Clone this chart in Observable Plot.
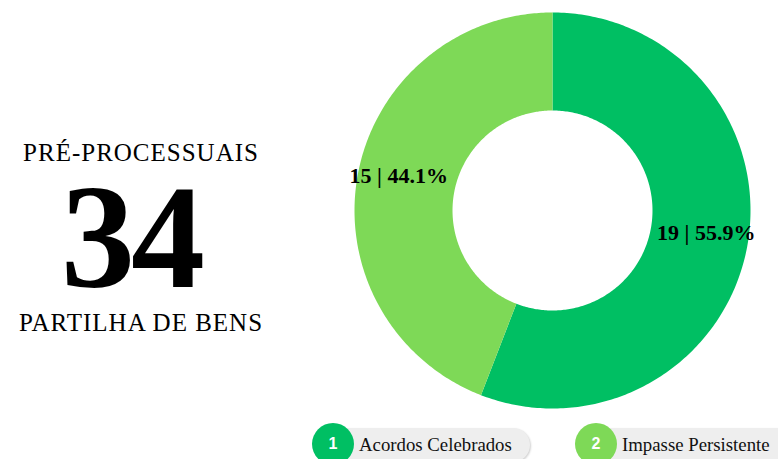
<!DOCTYPE html>
<html>
<head>
<meta charset="utf-8">
<script src="https://cdn.jsdelivr.net/npm/d3@7"></script>
<script src="https://cdn.jsdelivr.net/npm/@observablehq/plot@0.6"></script>
<style>
  html, body { margin: 0; padding: 0; background: #fff; }
  #wrap { position: relative; width: 778px; height: 459px; overflow: hidden; font-family: "Liberation Serif", "DejaVu Serif", serif; }
  .side { position: absolute; left: 0; width: 282px; text-align: center; color: #000; }
  #top { top: 138px; font-size: 25px; letter-spacing: 1px; line-height: 30px; }
  #big { top: 182px; font-size: 148px; font-weight: bold; line-height: 110px; height: 110px; left: -10px; letter-spacing: -4px; }
  #bottom { top: 308px; font-size: 25px; letter-spacing: 1px; line-height: 30px; }
  #chart { position: absolute; left: 352px; top: 10px; }
  .item { position: absolute; top: 423px; height: 42px; }
  .pill { position: absolute; top: 5px; height: 34px; border-radius: 17px; background: #eeeeee; box-shadow: 1px 1px 2px rgba(0,0,0,0.18); }
  .dot { position: absolute; left: 0; top: 0; width: 42px; height: 42px; border-radius: 21px; color: #fff;
         font-family: "Liberation Sans", Arial, sans-serif; font-size: 16px; font-weight: bold; text-align: center; line-height: 42px; }
  .lab { position: absolute; left: 47px; top: 10px; font-size: 18.8px; line-height: 24px; color: #111; white-space: nowrap; }
</style>
</head>
<body>
<div id="wrap">
  <div class="side" id="top"></div>
  <div class="side" id="big"></div>
  <div class="side" id="bottom"></div>
  <div id="chart"></div>
  <div id="legend"></div>
</div>
<script>
const categories = ["Acordos Celebrados", "Impasse Persistente"];
const values = [19, 15];
const colors = ["#00BF63", "#7ED957"];
const headerText = "PRÉ-PROCESSUAIS";
const footerText = "PARTILHA DE BENS";

const total = d3.sum(values);
document.getElementById("top").textContent = headerText;
document.getElementById("big").textContent = String(total);
document.getElementById("bottom").textContent = footerText;

// donut geometry (data units: outer radius = 1)
const outerR = 1, innerR = 0.505, labelR = 0.79;
const slices = [];
let acc = 0;
categories.forEach((c, i) => {
  const a0 = acc / total * 2 * Math.PI;
  acc += values[i];
  const a1 = acc / total * 2 * Math.PI;
  slices.push({category: c, value: values[i], a0, a1, pct: values[i] / total * 100});
});

const pts = [];
for (const s of slices) {
  const n = 240;
  for (let k = 0; k <= n; k++) {
    const a = s.a0 + (s.a1 - s.a0) * k / n;
    pts.push({category: s.category, x: outerR * Math.sin(a), y: outerR * Math.cos(a)});
  }
  for (let k = n; k >= 0; k--) {
    const a = s.a0 + (s.a1 - s.a0) * k / n;
    pts.push({category: s.category, x: innerR * Math.sin(a), y: innerR * Math.cos(a)});
  }
}
const labels = slices.map(s => {
  const m = (s.a0 + s.a1) / 2;
  return {x: labelR * Math.sin(m), y: labelR * Math.cos(m), text: `${s.value} | ${s.pct.toFixed(1)}%`};
});

const plot = Plot.plot({
  width: 400, height: 400,
  margin: 0,
  style: {overflow: "visible", background: "transparent"},
  x: {domain: [-1.0101, 1.0101], axis: null},
  y: {domain: [-1.0101, 1.0101], axis: null},
  color: {domain: categories, range: colors},
  marks: [
    Plot.line(pts, {x: "x", y: "y", z: "category", fill: "category", stroke: "none", curve: "linear-closed"}),
    Plot.text(labels, {x: "x", y: "y", text: "text", fontSize: 22, fontWeight: "bold", dy: -6,
      fontFamily: "Liberation Serif, serif", fill: "#000"})
  ]
});
document.getElementById("chart").appendChild(plot);

// legend
const legendPos = [{left: 312, pillW: 218}, {left: 575, pillW: 230}];
const legend = document.getElementById("legend");
categories.forEach((c, i) => {
  const item = document.createElement("div");
  item.className = "item";
  item.style.left = legendPos[i].left + "px";
  item.innerHTML = `<div class="pill" style="left:20px;width:${legendPos[i].pillW - 20}px"></div>
    <div class="dot" style="background:${colors[i]}">${i + 1}</div>
    <div class="lab">${c}</div>`;
  legend.appendChild(item);
});
</script>
</body>
</html>
